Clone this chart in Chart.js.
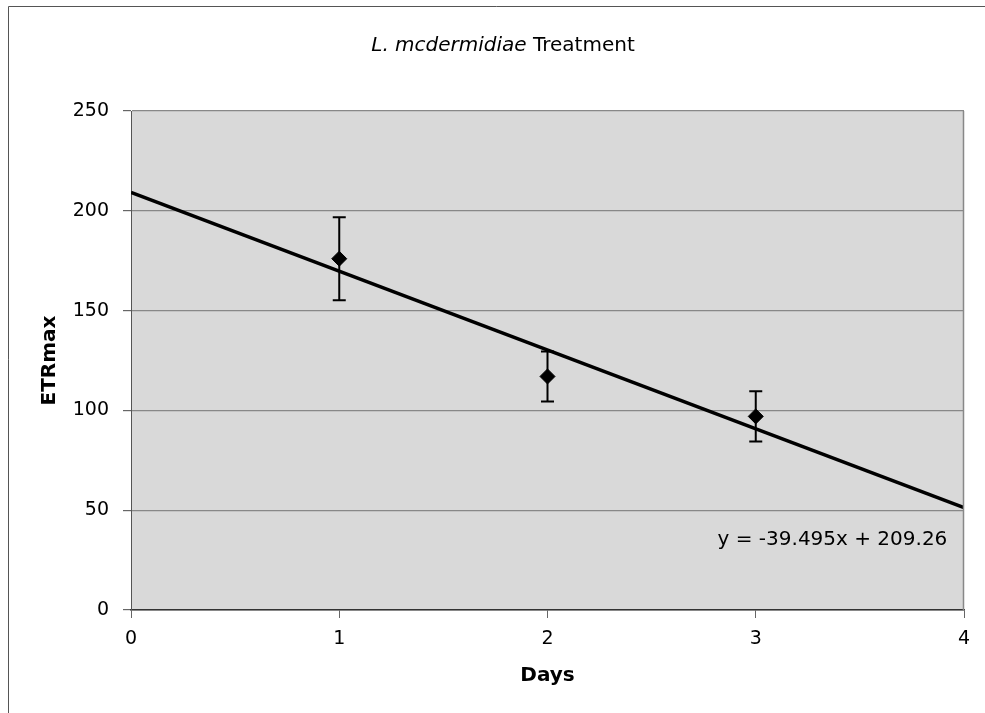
<!DOCTYPE html>
<html>
<head>
<meta charset="utf-8">
<script src="https://cdn.jsdelivr.net/npm/chart.js@4"></script>
<style>
  html, body { margin: 0; padding: 0; background: #fff; }
  #wrap { width: 985px; height: 713px; position: relative; }
</style>
</head>
<body>
<div id="wrap"><canvas id="etrChart"></canvas></div>
<script>
// data
var days = [1, 2, 3];
var etrMax = [176, 117, 97];
var etrErr = [20.8, 12.5, 12.6];
var trendX = [0, 4];
var trendY = [209.26, 51.28];
var yTicks = [0, 50, 100, 150, 200, 250];
var xTicks = [0, 1, 2, 3, 4];
var equation = 'y = -39.495x + 209.26';

var FONT = '"DejaVu Sans", Verdana, sans-serif';

// plot background, frame, title, error bars, equation
var extras = {
    id: 'extras',
    beforeDraw: function (chart) {
        var c = chart.ctx, a = chart.chartArea;
        c.save();
        c.fillStyle = '#d9d9d9';
        c.fillRect(a.left, a.top, a.right - a.left, a.bottom - a.top);
        // outer frame (top and left only visible)
        c.strokeStyle = '#555';
        c.lineWidth = 1;
        c.beginPath();
        c.moveTo(8.5, 713);
        c.lineTo(8.5, 6.5);
        c.lineTo(985, 6.5);
        c.stroke();
        c.restore();
    },
    afterDatasetsDraw: function (chart) {
        var c = chart.ctx, a = chart.chartArea;
        var xs = chart.scales.x, ys = chart.scales.y;
        c.save();
        // right edge of plot
        c.strokeStyle = '#888';
        c.lineWidth = 1.5;
        c.beginPath();
        c.moveTo(Math.round(a.right) - 0.5, a.top);
        c.lineTo(Math.round(a.right) - 0.5, a.bottom);
        c.stroke();
        // error bars
        c.strokeStyle = '#000';
        c.lineWidth = 2;
        for (var i = 0; i < days.length; i++) {
            var px = xs.getPixelForValue(days[i]);
            var hi = ys.getPixelForValue(etrMax[i] + etrErr[i]);
            var lo = ys.getPixelForValue(etrMax[i] - etrErr[i]);
            c.beginPath();
            c.moveTo(px, hi); c.lineTo(px, lo);
            c.moveTo(px - 6.5, hi); c.lineTo(px + 6.5, hi);
            c.moveTo(px - 6.5, lo); c.lineTo(px + 6.5, lo);
            c.stroke();
        }
        // trendline equation
        c.fillStyle = '#000';
        c.font = '20px ' + FONT;
        c.textAlign = 'right';
        c.textBaseline = 'middle';
        c.fillText(equation, xs.getPixelForValue(3.92), ys.getPixelForValue(35));
        // title with italic species name
        var t1 = 'L. mcdermidiae', t2 = ' Treatment';
        c.font = 'italic 20px ' + FONT;
        var w1 = c.measureText(t1).width;
        c.font = '20px ' + FONT;
        var w2 = c.measureText(t2).width;
        var x0 = 503 - (w1 + w2) / 2;
        c.textAlign = 'left';
        c.font = 'italic 20px ' + FONT;
        c.fillText(t1, x0, 46);
        c.font = '20px ' + FONT;
        c.fillText(t2, x0 + w1, 46);
        c.restore();
    }
};

var ctx = document.getElementById('etrChart').getContext('2d');
var chart = new Chart(ctx, {
    type: 'scatter',
    data: {
        datasets: [{
            label: 'trend',
            data: trendX.map(function (x, i) { return { x: x, y: trendY[i] }; }),
            showLine: true,
            borderColor: '#000',
            borderWidth: 3.5,
            pointRadius: 0,
            order: 2
        }, {
            label: 'ETRmax',
            data: days.map(function (d, i) { return { x: d, y: etrMax[i] }; }),
            pointStyle: 'rectRot',
            pointRadius: 7.5,
            backgroundColor: '#000',
            borderColor: '#000',
            order: 1
        }]
    },
    options: {
        responsive: true,
        maintainAspectRatio: false,
        animation: false,
        layout: { padding: { left: 0, right: 21, top: 111, bottom: 0 } },
        plugins: {
            legend: { display: false },
            tooltip: { enabled: false }
        },
        scales: {
            x: {
                type: 'linear',
                min: 0, max: 4,
                afterBuildTicks: function (s) { s.ticks = xTicks.map(function (v) { return { value: v }; }); },
                afterFit: function (s) { s.height = 103; },
                grid: { drawOnChartArea: false, tickLength: 8, tickColor: '#666' },
                border: { color: '#333', width: 1.5 },
                ticks: { color: '#000', padding: 10, font: { family: FONT, size: 19 } },
                title: { display: true, text: 'Days', color: '#000', padding: { top: 0, bottom: 25 },
                         font: { family: FONT, size: 20, weight: 'bold' } }
            },
            y: {
                min: 0, max: 250,
                afterBuildTicks: function (s) { s.ticks = yTicks.map(function (v) { return { value: v }; }); },
                afterFit: function (s) { s.width = 131; },
                grid: { color: '#888', tickLength: 8, tickColor: '#666', lineWidth: 1.2 },
                border: { color: '#555', width: 1 },
                ticks: { color: '#000', padding: 14, font: { family: FONT, size: 19 } },
                title: { display: true, text: 'ETRmax', color: '#000', padding: { top: 38, bottom: 0 },
                         font: { family: FONT, size: 20, weight: 'bold' } }
            }
        }
    },
    plugins: [extras]
});
</script>
</body>
</html>
